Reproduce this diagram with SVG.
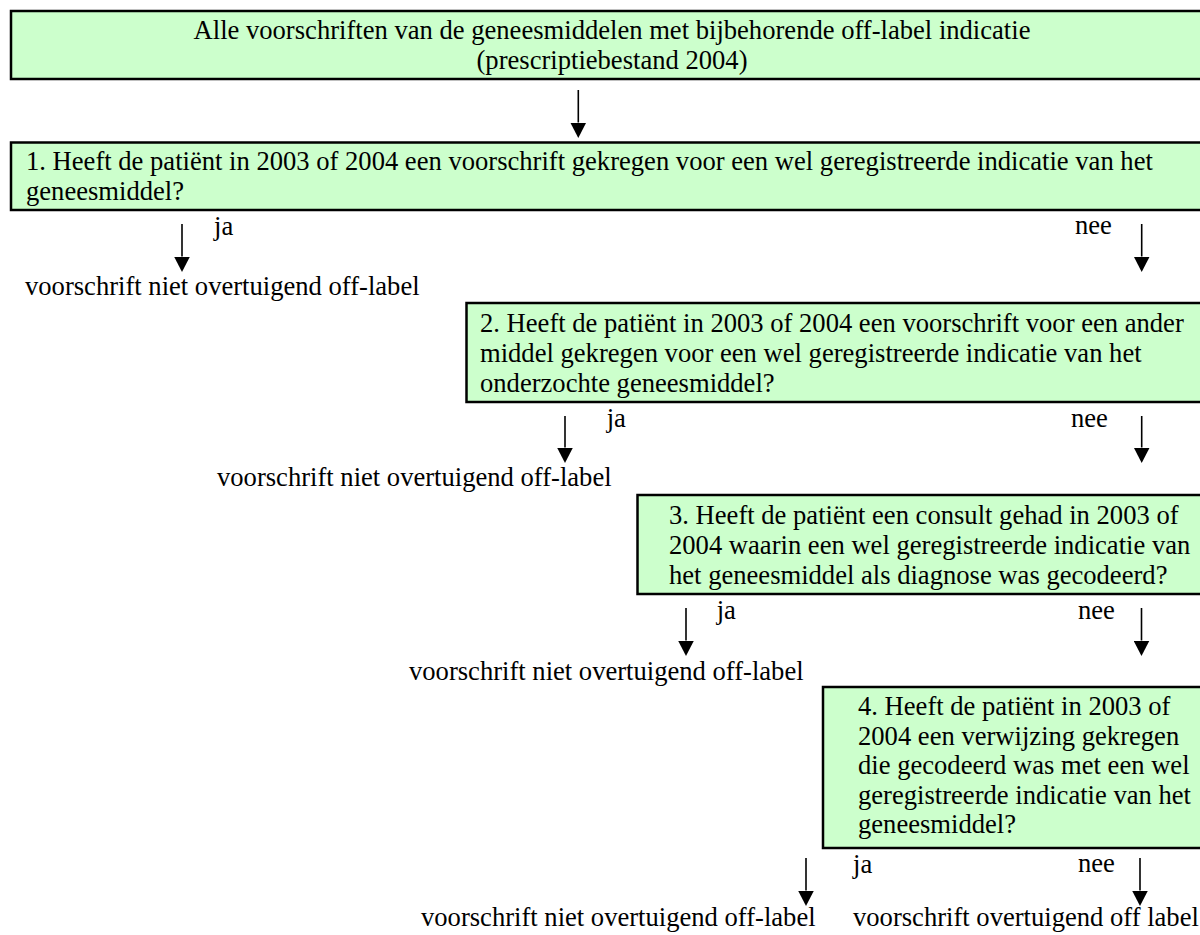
<svg xmlns="http://www.w3.org/2000/svg" width="1200" height="935" viewBox="0 0 1200 935">
<style>
.box{fill:#CCFFCC;stroke:#000;stroke-width:2.5}
text{font-family:"Liberation Serif","Times New Roman",serif;font-size:26.6px;fill:#000}
.c{text-anchor:middle}
.arr{stroke:#000;stroke-width:1.6;fill:none;marker-end:url(#ah)}
</style>
<defs>
<marker id="ah" markerUnits="userSpaceOnUse" markerWidth="16" markerHeight="16" viewBox="0 0 16 16" refX="0" refY="8" orient="auto">
<path d="M0,0 L15.5,8 L0,16 z" fill="#000"/>
</marker>
</defs>
<rect width="1200" height="935" fill="#fff"/>
<g id="start">
<rect class="box" x="11" y="11" width="1210" height="68"/>
<text class="c" x="612" y="39">Alle voorschriften van de geneesmiddelen met bijbehorende off-label indicatie</text>
<text class="c" x="612" y="68.5">(prescriptiebestand 2004)</text>
</g>
<g id="q1">
<rect class="box" x="11" y="142.5" width="1210" height="67.5"/>
<text x="26" y="170">1. Heeft de patiënt in 2003 of 2004 een voorschrift gekregen voor een wel geregistreerde indicatie van het</text>
<text x="26" y="199.5">geneesmiddel?</text>
</g>
<g id="r1"><text x="25" y="295">voorschrift niet overtuigend off-label</text></g>
<g id="q2">
<rect class="box" x="466.5" y="303" width="760" height="99"/>
<text x="480" y="331.5">2. Heeft de patiënt in 2003 of 2004 een voorschrift voor een ander</text>
<text x="480" y="361.5">middel gekregen voor een wel geregistreerde indicatie van het</text>
<text x="480" y="391.5">onderzochte geneesmiddel?</text>
</g>
<g id="r2"><text x="217" y="486">voorschrift niet overtuigend off-label</text></g>
<g id="q3">
<rect class="box" x="637.5" y="495" width="590" height="99"/>
<text x="669" y="523.5">3. Heeft de patiënt een consult gehad in 2003 of</text>
<text x="669" y="553.5">2004 waarin een wel geregistreerde indicatie van</text>
<text x="669" y="583.5">het geneesmiddel als diagnose was gecodeerd?</text>
</g>
<g id="r3"><text x="409" y="680">voorschrift niet overtuigend off-label</text></g>
<g id="q4">
<rect class="box" x="823" y="687" width="400" height="161"/>
<text x="858" y="715">4. Heeft de patiënt in 2003 of</text>
<text x="858" y="744.5">2004 een verwijzing gekregen</text>
<text x="858" y="774">die gecodeerd was met een wel</text>
<text x="858" y="803.5">geregistreerde indicatie van het</text>
<text x="858" y="833">geneesmiddel?</text>
</g>
<g id="r4a"><text x="421" y="926">voorschrift niet overtuigend off-label</text></g>
<g id="r4b"><text x="853" y="926">voorschrift overtuigend off label</text></g>
<g id="connectors">
<line class="arr" x1="578.3" y1="90" x2="578.3" y2="122.5"/>
<line class="arr" x1="182" y1="224" x2="182" y2="256.5"/>
<line class="arr" x1="1141.7" y1="224" x2="1141.7" y2="256.5"/>
<line class="arr" x1="565" y1="416" x2="565" y2="447.5"/>
<line class="arr" x1="1141.7" y1="416" x2="1141.7" y2="447.5"/>
<line class="arr" x1="686" y1="608" x2="686" y2="640.5"/>
<line class="arr" x1="1141.5" y1="608" x2="1141.5" y2="640.5"/>
<line class="arr" x1="806" y1="858" x2="806" y2="890.5"/>
<line class="arr" x1="1140" y1="858" x2="1140" y2="890.5"/>
<text x="214" y="235">ja</text>
<text x="1075" y="234">nee</text>
<text x="606.7" y="427">ja</text>
<text x="1071" y="427">nee</text>
<text x="716.7" y="619">ja</text>
<text x="1078" y="619">nee</text>
<text x="853" y="872.5">ja</text>
<text x="1078" y="872">nee</text>
</g>
</svg>
